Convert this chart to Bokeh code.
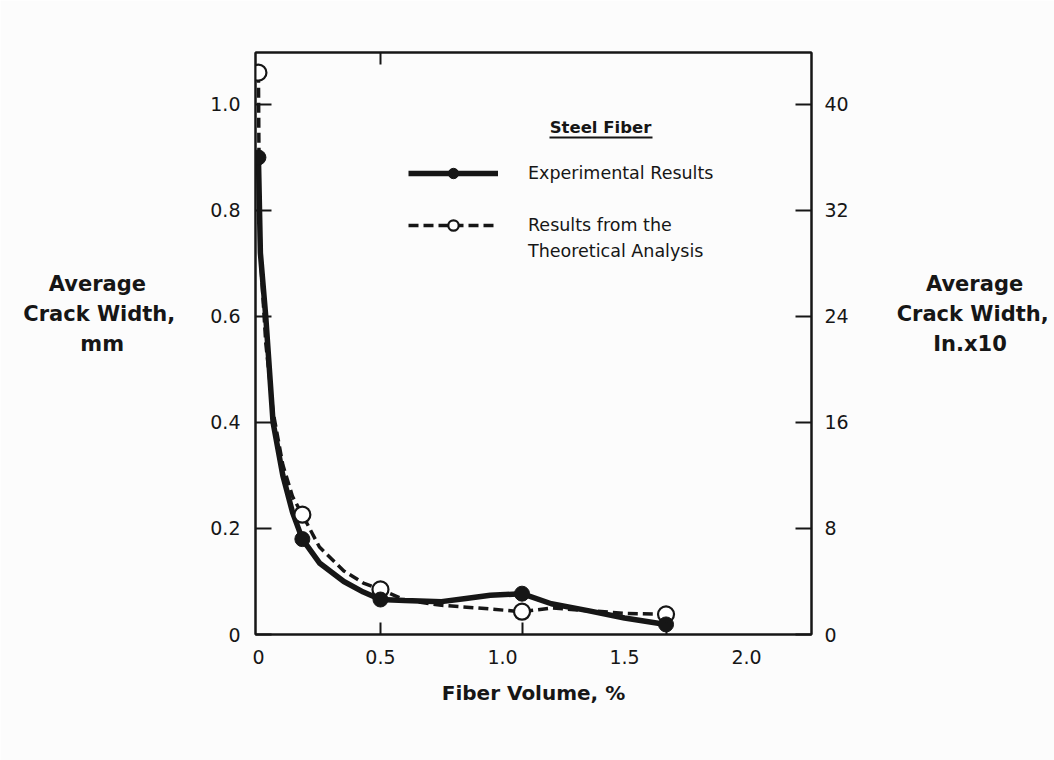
from bokeh.plotting import figure
from bokeh.models import (Range1d, LinearAxis, FixedTicker, Label, Legend, LegendItem,
                          PrintfTickFormatter, BoxAnnotation)
from bokeh.embed import file_html
from bokeh.resources import INLINE

# Fiber volume (%) and average crack width (mm) at the tested/analysed volumes
exp_x = [0.0, 0.18, 0.5, 1.08, 1.67]
exp_y = [0.90, 0.18, 0.066, 0.077, 0.019]
theo_x = [0.0, 0.18, 0.5, 1.08, 1.67]
theo_y = [1.06, 0.226, 0.085, 0.043, 0.038]

# Hand-faired curves drawn through the points
exp_curve_x = [0.0, 0.008, 0.03, 0.06, 0.10, 0.14, 0.18, 0.25, 0.35, 0.43, 0.5,
               0.6, 0.75, 0.85, 0.95, 1.08, 1.2, 1.35, 1.5, 1.67]
exp_curve_y = [0.90, 0.72, 0.60, 0.40, 0.30, 0.23, 0.18, 0.135, 0.10, 0.08, 0.066,
               0.064, 0.062, 0.068, 0.074, 0.077, 0.058, 0.045, 0.031, 0.019]
theo_curve_x = [0.0, 0.003, 0.01, 0.03, 0.06, 0.10, 0.14, 0.18, 0.25, 0.35, 0.43,
                0.5, 0.6, 0.75, 0.9, 1.08, 1.2, 1.35, 1.5, 1.67]
theo_curve_y = [1.06, 0.85, 0.70, 0.55, 0.42, 0.32, 0.26, 0.226, 0.165, 0.12, 0.097,
                0.085, 0.065, 0.055, 0.05, 0.043, 0.05, 0.045, 0.04, 0.038]

x_ticks = [0, 0.5, 1.0, 1.5, 2.0]
mm_ticks = [0, 0.2, 0.4, 0.6, 0.8, 1.0]
in_ticks = [0, 8, 16, 24, 32, 40]
MM_TO_IN10 = 40.0

NB = "\u00a0"
# side titles: no-break spaces centre the short lines inside the block, and two
# trailing blank lines lift the block above the axis midpoint
left_title = "Average" + NB * 4 + "\nCrack Width,\nmm" + NB * 7 + "\n\n"
right_title = NB * 4 + "Average\nCrack Width,\n" + NB * 5 + "In.x10\n\n"

INK = "#161616"
PAPER = "#fcfcfc"
FONT = "DejaVu Sans"

y_top = 1.098
p = figure(width=1054, height=760, output_backend="svg", toolbar_location=None,
           x_range=Range1d(-0.012, 2.266), y_range=Range1d(0, y_top),
           min_border_left=255, min_border_right=243, min_border_top=52,
           min_border_bottom=126, background_fill_color=PAPER,
           border_fill_color=PAPER)
p.extra_y_ranges = {"in10": Range1d(0, y_top * MM_TO_IN10)}
p.grid.visible = False
p.outline_line_color = INK
p.outline_line_width = 2

def style_axis(ax):
    ax.axis_line_color = INK
    ax.axis_line_width = 2
    ax.major_tick_line_color = INK
    ax.major_tick_line_width = 2
    ax.minor_tick_line_color = INK
    ax.minor_tick_line_width = 2
    ax.major_tick_out = 0
    ax.minor_tick_out = 0
    ax.major_label_text_font = FONT
    ax.major_label_text_font_size = "19px"
    ax.major_label_text_color = INK

def side_title(ax, text, standoff):
    ax.axis_label = text
    ax.axis_label_text_font = FONT
    ax.axis_label_text_font_size = "21px"
    ax.axis_label_text_font_style = "bold"
    ax.axis_label_text_color = INK
    ax.axis_label_text_line_height = 1.23
    ax.axis_label_standoff = standoff
    if "axis_label_orientation" in ax.properties():
        ax.axis_label_orientation = "horizontal"

# left axis (mm)
ly = p.yaxis[0]
style_axis(ly)
ly.ticker = FixedTicker(ticks=mm_ticks)
ly.formatter = PrintfTickFormatter(format="%.1f")
ly.major_label_overrides = {0: "0"}
ly.major_tick_in = 16
ly.major_label_standoff = 15
side_title(ly, left_title, 32)

# right axis (in. x10)
ry = LinearAxis(y_range_name="in10", ticker=FixedTicker(ticks=in_ticks))
style_axis(ry)
ry.major_tick_in = 16
ry.major_label_standoff = 13
side_title(ry, right_title, 45)
p.add_layout(ry, "right")

# bottom axis: labels at round values, short inner ticks at the test volumes
bx = p.xaxis[0]
style_axis(bx)
bx.ticker = FixedTicker(ticks=x_ticks, minor_ticks=exp_x[2:])
bx.formatter = PrintfTickFormatter(format="%.1f")
bx.major_label_overrides = {0: "0"}
bx.major_tick_in = 0
bx.minor_tick_in = 12
bx.major_label_standoff = 15
bx.axis_label = "Fiber Volume, %"
bx.axis_label_text_font = FONT
bx.axis_label_text_font_size = "20px"
bx.axis_label_text_font_style = "bold"
bx.axis_label_text_color = INK
bx.axis_label_standoff = 14

# top axis: frame edge with a single inner tick
tx = LinearAxis(ticker=FixedTicker(ticks=[], minor_ticks=[0.5]))
style_axis(tx)
tx.minor_tick_in = 12
tx.major_label_text_font_size = "0px"
p.add_layout(tx, "above")

# curves and points
theo_line = p.line(theo_curve_x, theo_curve_y, line_color=INK, line_width=3.5,
                   line_dash="10 5")
exp_line = p.line(exp_curve_x, exp_curve_y, line_color=INK, line_width=5.5)
theo_pts = p.scatter(theo_x, theo_y, size=16, fill_color="white", line_color=INK,
                     line_width=2.2)
exp_pts = p.scatter(exp_x, exp_y, size=15, fill_color=INK, line_color=INK)
blank = p.line(x=[], y=[], line_alpha=0)

legend = Legend(items=[
    LegendItem(label="Experimental Results", renderers=[exp_line, exp_pts]),
    LegendItem(label=" ", renderers=[blank]),
    LegendItem(label="Results from the", renderers=[theo_line, theo_pts]),
    LegendItem(label="Theoretical Analysis", renderers=[blank]),
], location=(153, 370), glyph_width=90, glyph_height=26, label_height=26,
    label_standoff=30, spacing=0, padding=0, margin=0,
    border_line_alpha=0, background_fill_alpha=0,
    label_text_font=FONT, label_text_font_size="17.5px", label_text_color=INK)
p.add_layout(legend, "center")

title = Label(x=345, y=507, x_units="screen", y_units="screen", text="Steel Fiber",
              text_font=FONT, text_font_size="16.5px", text_font_style="bold",
              text_color=INK, text_align="center", text_baseline="middle")
p.add_layout(title)
p.add_layout(BoxAnnotation(left=294, right=397, bottom=496, top=498,
                           left_units="screen", right_units="screen",
                           bottom_units="screen", top_units="screen",
                           fill_color=INK, fill_alpha=1, line_alpha=0))

open("out.html", "w").write(file_html(p, INLINE))
